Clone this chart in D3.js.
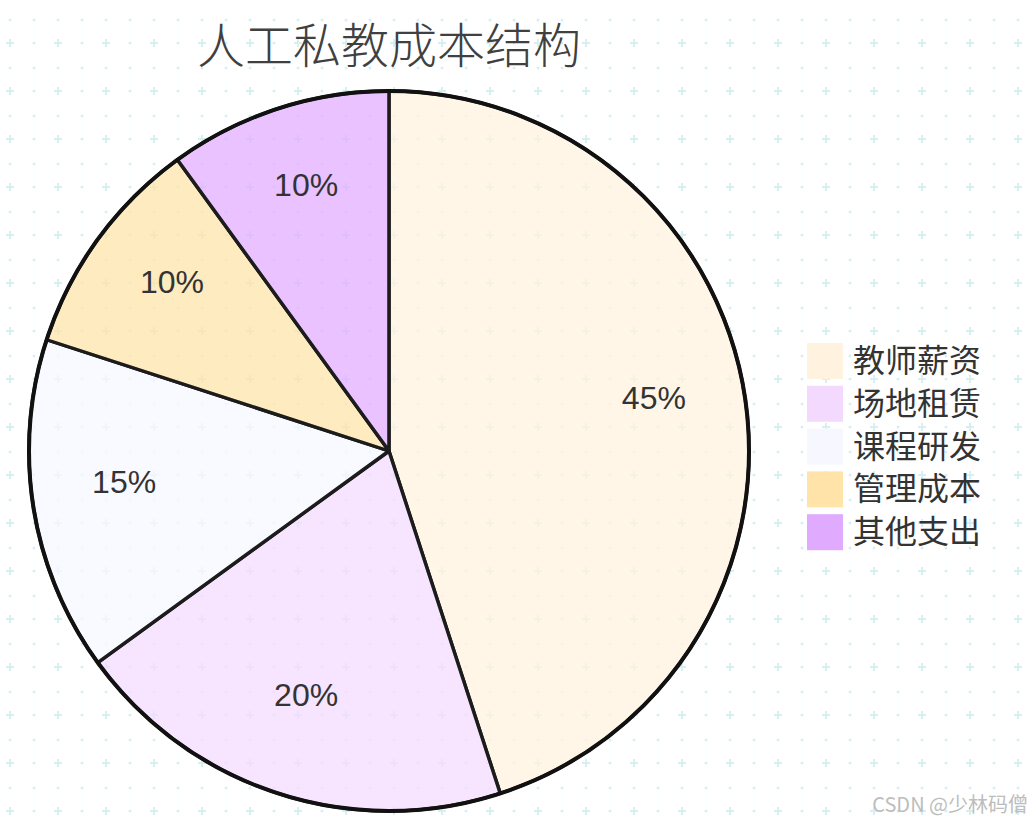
<!DOCTYPE html>
<html>
<head>
<meta charset="utf-8">
<script src="https://cdn.jsdelivr.net/npm/d3@7"></script>
<style>
  body { margin: 0; background: #fff; }
  svg { display: block; }
</style>
</head>
<body>
<script>
const categories = ["教师薪资", "场地租赁", "课程研发", "管理成本", "其他支出"];
const values = [45, 20, 15, 10, 10];
const colors = ["#fff3df", "#f4d9fe", "#f7f8ff", "#ffe3a8", "#e0aaff"];
const title = "人工私教成本结构";

const width = 1033;
const height = 822;
const cx = 389, cy = 451;
const radius = 360;

const svg = d3.select('body').append('svg')
    .attr("width", width).attr("height", height);

// background grid of dots and crosses
const defs = svg.append('defs');
const pat = defs.append('pattern').attr("id", "grid")
    .attr("patternUnits", "userSpaceOnUse")
    .attr("x", -2).attr("y", 8)
    .attr("width", 48).attr("height", 48);
const gridColor = "#d8eff2";
[[12, 12], [36, 12], [36, 35]].forEach(p => {
    pat.append('circle').attr("cx", p[0]).attr("cy", p[1]).attr("r", 1.5).attr("fill", gridColor);
});
pat.append('path').attr("d", "M8,35H16M12,31V39")
    .attr("stroke", gridColor).attr("stroke-width", 2);
svg.append('rect').attr("width", width).attr("height", height).attr("fill", "url(#grid)");

// title
svg.append('text')
    .attr("x", cx).attr("y", 63)
    .attr("text-anchor", "middle")
    .style("font-family", "'Noto Sans CJK SC', sans-serif")
    .style("font-size", "48px")
    .style("font-weight", 300)
    .style("fill", "#404040")
    .text(title);

const pie = d3.pie().sort(null).value(d => d);
const arcs = pie(values);
const arc = d3.arc().innerRadius(0).outerRadius(radius);
const labelArc = d3.arc().innerRadius(radius * 0.745).outerRadius(radius * 0.745);

const g = svg.append('g').attr("transform", "translate(" + cx + "," + cy + ")");

g.selectAll('path.slice').data(arcs).enter().append('path')
    .attr("class", "slice")
    .attr("d", arc)
    .attr("fill", (d, i) => colors[i])
    .attr("fill-opacity", 0.72)
    .attr("stroke", "#1c1c1c")
    .attr("stroke-width", 3.4)
    .attr("stroke-linejoin", "round");

g.append('circle').attr("r", radius)
    .attr("fill", "none")
    .attr("stroke", "#111")
    .attr("stroke-width", 4);

g.selectAll('text.label').data(arcs).enter().append('text')
    .attr("class", "label")
    .attr("x", d => labelArc.centroid(d)[0])
    .attr("y", d => labelArc.centroid(d)[1])
    .attr("text-anchor", "middle")
    .style("font-family", "'Liberation Sans', Arial, sans-serif")
    .style("font-size", "32px")
    .style("fill", "#333")
    .text(d => d.data + "%");

// legend
const legendY = d3.scaleBand().domain(categories).range([340, 554]);
const legend = svg.append('g');
const item = legend.selectAll('g').data(categories).enter().append('g')
    .attr("transform", d => "translate(807," + legendY(d) + ")");
item.append('rect')
    .attr("y", 3)
    .attr("width", 36).attr("height", 36)
    .attr("fill", (d, i) => colors[i]);
item.append('text')
    .attr("x", 46).attr("y", 32)
    .style("font-family", "'Noto Sans CJK SC', sans-serif")
    .style("font-size", "32px")
    .style("fill", "#333")
    .text(d => d);

// watermark
svg.append('text')
    .attr("x", 1028).attr("y", 812)
    .attr("text-anchor", "end")
    .style("font-family", "'Noto Sans CJK SC', sans-serif")
    .style("font-size", "20px")
    .style("fill", "#bdbdbd")
    .text("CSDN @少林码僧");
</script>
</body>
</html>
